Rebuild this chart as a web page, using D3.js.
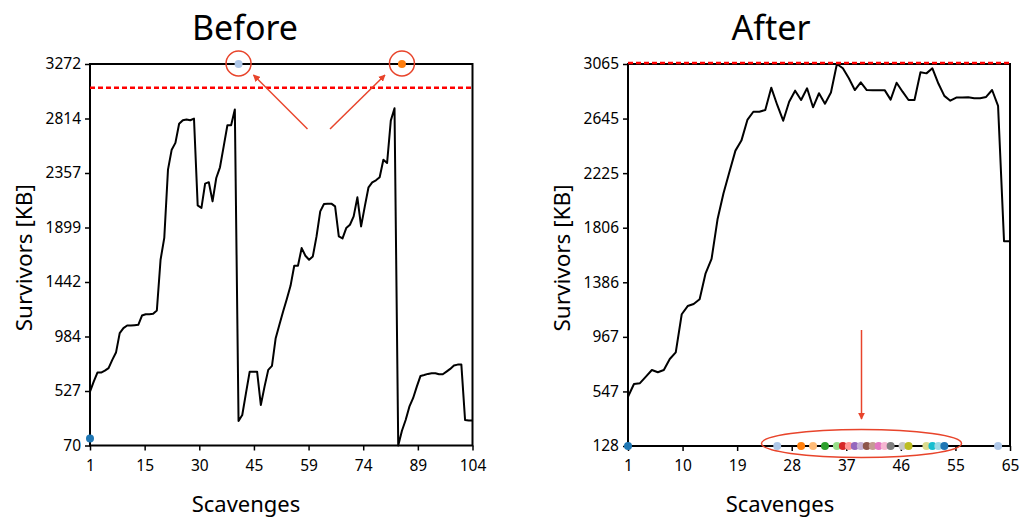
<!DOCTYPE html>
<html>
<head>
<meta charset="utf-8">
<script src="https://cdn.jsdelivr.net/npm/d3@7"></script>
<style>
  html, body { margin: 0; padding: 0; background: #fff; }
  svg { display: block; }
  text { font-family: "Noto Sans", "DejaVu Sans", sans-serif; fill: #000; }
</style>
</head>
<body>
<svg id="chart" width="1021" height="519"></svg>
<script>
// ---------------- DATA ----------------
const beforeTitle = "Before";
const afterTitle = "After";
const yLabel = "Survivors [KB]";
const xLabel = "Scavenges";

const beforeSurvivors = [
  522, 606, 682, 682, 698, 719, 789, 850, 1013, 1055,
  1077, 1077, 1080, 1083, 1161, 1172, 1172, 1175, 1203, 1629,
  1812, 2385, 2553, 2610, 2770, 2800, 2806, 2800, 2814, 2085,
  2063, 2268, 2280, 2119, 2315, 2405, 2581, 2758, 2758, 2890,
  276, 326, 509, 690, 690, 690, 410, 564, 705, 738,
  971, 1083, 1194, 1299, 1410, 1579, 1579, 1727, 1663, 1629,
  1657, 1825, 2035, 2097, 2100, 2100, 2077, 1825, 1808, 1895,
  1923, 1993, 2153, 1909, 2077, 2237, 2279, 2296, 2321, 2469,
  2441, 2797, 2900, 70, 194, 284, 396, 467, 564, 654,
  662, 671, 677, 677, 668, 668, 690, 713, 741, 749,
  749, 284, 279, 280
];
const beforeXTickLabels = [1, 15, 30, 45, 59, 74, 89, 104];
const beforeYTickLabels = [70, 527, 984, 1442, 1899, 2357, 2814, 3272];
const beforeMarkerX = [1, 41, 85];
const beforeMarkerY = [128, 3272, 3272];

const afterSurvivors = [
  507, 605, 611, 661, 712, 695, 712, 797, 848, 1141,
  1204, 1220, 1256, 1456, 1566, 1871, 2071, 2237, 2399, 2476,
  2635, 2698, 2698, 2711, 2883, 2750, 2629, 2775, 2860, 2788,
  2878, 2732, 2840, 2760, 2846, 3065, 3032, 2955, 2865, 2924,
  2865, 2864, 2864, 2864, 2791, 2921, 2852, 2788, 2788, 3001,
  2993, 3032, 2915, 2820, 2783, 2807, 2807, 2809, 2801, 2801,
  2812, 2865, 2743, 1702, 1702
];
const afterXTickLabels = [1, 10, 19, 28, 37, 46, 55, 65];
const afterYTickLabels = [128, 547, 967, 1386, 1806, 2225, 2645, 3065];
const afterMarkerX = [1, 26, 30, 32, 34, 36, 37, 38, 39, 40, 41, 42, 43, 44, 45, 47, 48, 51, 52, 53, 54, 63];
const afterMarkerY = afterMarkerX.map(() => 128);

const limitKB = 3072;

const tab20 = ["#1f77b4", "#aec7e8", "#ff7f0e", "#ffbb78", "#2ca02c", "#98df8a",
  "#d62728", "#ff9896", "#9467bd", "#c5b0d5", "#8c564b", "#c49c94",
  "#e377c2", "#f7b6d2", "#7f7f7f", "#c7c7c7", "#bcbd22", "#dbdb8d",
  "#17becf", "#9edae5"];

// ---------------- DRAW ----------------
const svg = d3.select("#chart");
const annot = "#e8442b";

svg.append("defs").append("marker")
  .attr("id", "arrow")
  .attr("viewBox", "0 0 10 10")
  .attr("refX", 9).attr("refY", 5)
  .attr("markerWidth", 7).attr("markerHeight", 7)
  .attr("markerUnits", "userSpaceOnUse")
  .attr("orient", "auto")
  .append("path").attr("d", "M0,0 L10,5 L0,10 z").attr("fill", annot);

function linspace(a, b, n) { return d3.range(n).map(k => a + k * (b - a) / (n - 1)); }

function drawPanel(opt) {
  const g = svg.append("g");
  const x = d3.scaleLinear().domain([1, opt.values.length]).range([opt.left, opt.right]);
  const yMin = opt.yTicks[0], yMax = opt.yTicks[opt.yTicks.length - 1];
  const y = d3.scaleLinear().domain([yMin, yMax]).range([opt.bottom, opt.top]);

  const xPos = linspace(1, opt.values.length, opt.xTicks.length);
  const yPos = linspace(yMin, yMax, opt.yTicks.length);

  const xAxis = d3.axisBottom(x).tickValues(xPos)
    .tickFormat((d, i) => opt.xTicks[i]).tickSize(5).tickPadding(9);
  const yAxis = d3.axisLeft(y).tickValues(yPos)
    .tickFormat((d, i) => opt.yTicks[i]).tickSize(5).tickPadding(4);

  const gx = g.append("g").attr("transform", `translate(0,${opt.bottom})`).call(xAxis);
  const gy = g.append("g").attr("transform", `translate(${opt.left},0)`).call(yAxis);
  [gx, gy].forEach(a => {
    a.select(".domain").remove();
    a.selectAll(".tick line").attr("stroke", "#000").attr("stroke-width", 1.5);
    a.selectAll(".tick text").attr("font-size", 15.5).attr("fill", "#000")
      .style("font-family", '"Noto Sans", sans-serif');
  });

  const line = d3.line().x((d, i) => x(i + 1)).y(d => y(d));
  g.append("path").datum(opt.values).attr("d", line)
    .attr("fill", "none").attr("stroke", "#000").attr("stroke-width", 2)
    .attr("stroke-linejoin", "round");

  g.append("rect").attr("x", opt.left).attr("y", opt.top)
    .attr("width", opt.right - opt.left).attr("height", opt.bottom - opt.top)
    .attr("fill", "none").attr("stroke", "#000").attr("stroke-width", 2);

  g.append("line")
    .attr("x1", opt.left).attr("x2", opt.right)
    .attr("y1", y(limitKB)).attr("y2", y(limitKB))
    .attr("stroke", "#ff0000").attr("stroke-width", 2.5)
    .attr("stroke-dasharray", "5,3");

  g.selectAll("circle.mk").data(opt.markerX).enter().append("circle")
    .attr("class", "mk")
    .attr("cx", d => x(d)).attr("cy", (d, i) => y(opt.markerY[i]))
    .attr("r", 4).attr("fill", (d, i) => tab20[i % tab20.length]);

  g.append("text").attr("x", opt.titleX).attr("y", 40).attr("text-anchor", "middle")
    .attr("font-size", 34).text(opt.title);
  g.append("text").attr("x", opt.xLabelX).attr("y", 512).attr("text-anchor", "middle")
    .attr("font-size", 22).text(xLabel);
  g.append("text").attr("transform", `translate(${opt.left - 58},${(opt.top + opt.bottom) / 2 + 3}) rotate(-90)`)
    .attr("text-anchor", "middle").attr("font-size", 22.5).text(yLabel);

  return { x, y, g };
}

const before = drawPanel({
  values: beforeSurvivors, xTicks: beforeXTickLabels, yTicks: beforeYTickLabels,
  markerX: beforeMarkerX, markerY: beforeMarkerY,
  left: 90, right: 472.5, top: 64, bottom: 445.5, title: beforeTitle,
  titleX: 245, xLabelX: 246
});
const after = drawPanel({
  values: afterSurvivors, xTicks: afterXTickLabels, yTicks: afterYTickLabels,
  markerX: afterMarkerX, markerY: afterMarkerY,
  left: 628, right: 1010, top: 64, bottom: 446, title: afterTitle,
  titleX: 771, xLabelX: 780
});

[1, 2].forEach(k => {
  const bx = before.x(beforeMarkerX[k]), by = before.y(beforeMarkerY[k]);
  before.g.append("circle").attr("cx", bx).attr("cy", by - 0.5).attr("r", 12.5)
    .attr("fill", "none").attr("stroke", annot).attr("stroke-width", 1.5);
});
before.g.append("line").attr("x1", 307.5).attr("y1", 129).attr("x2", 253.5).attr("y2", 75)
  .attr("stroke", annot).attr("stroke-width", 1.5).attr("marker-end", "url(#arrow)");
before.g.append("line").attr("x1", 330).attr("y1", 129).attr("x2", 385).attr("y2", 75)
  .attr("stroke", annot).attr("stroke-width", 1.5).attr("marker-end", "url(#arrow)");

after.g.append("ellipse").attr("cx", 861.5).attr("cy", 443.5).attr("rx", 100).attr("ry", 14)
  .attr("fill", "none").attr("stroke", annot).attr("stroke-width", 1.5);
after.g.append("line").attr("x1", 861.5).attr("y1", 330).attr("x2", 861.5).attr("y2", 419)
  .attr("stroke", annot).attr("stroke-width", 1.5).attr("marker-end", "url(#arrow)");
</script>
</body>
</html>
